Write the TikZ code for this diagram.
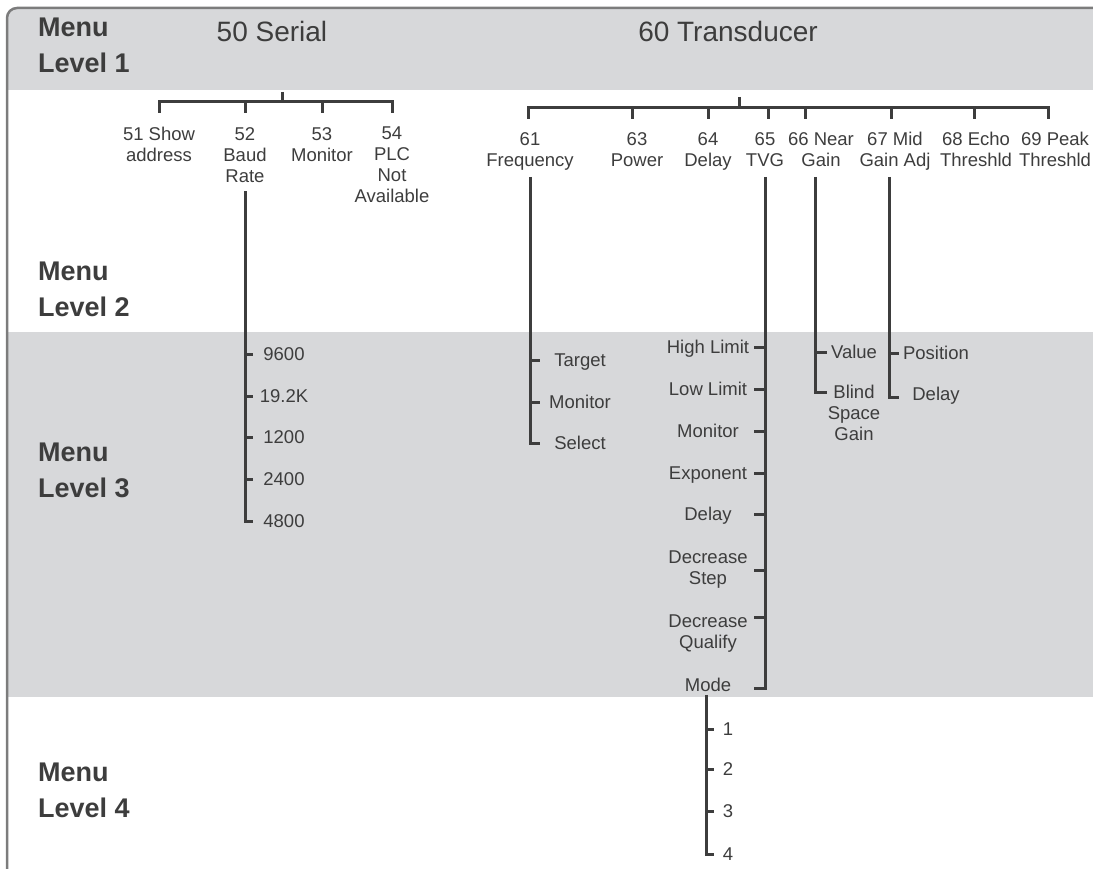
\documentclass[tikz,border=0pt]{standalone}
\usepackage{fontspec}
\setmainfont{Liberation Sans}
\usepackage{tikz}
\usetikzlibrary{positioning, calc}
\definecolor{bandgray}{HTML}{D7D8DA}
\definecolor{inkgray}{HTML}{3D3D3D}
\definecolor{framegray}{HTML}{7C7C7C}

\begin{document}
\begin{tikzpicture}[
		x=1pt, y=-1pt,
		every node/.style={
				inner sep=0pt,
				text=inkgray,
				align=center,
				font=\fontsize{18.5}{21}\selectfont
			},
		menulevel/.style={
				anchor=north west,
				align=left,
				font=\bfseries\fontsize{27}{36}\selectfont
			},
		heading/.style={anchor=base, font=\fontsize{28}{30}\selectfont},
		choice/.style={anchor=north},
		leaf/.style={
				text height=13.2pt, % cap height of the label font
				text depth=0pt
			},
		branch/.style={draw=inkgray, line width=3pt}
	]
	\useasboundingbox (0,0) rectangle (1093,869);

	% grey bands of level 1 and level 3
	\begin{scope}
		\clip (0,0) rectangle (1093,90);
		\fill[bandgray, rounded corners=10pt] (7,8) rectangle (1120,200);
	\end{scope}
	\fill[bandgray] (7,332) rectangle (1093,697);
	\draw[framegray, line width=2.5pt, rounded corners=10pt] (7,900) -- (7,8) -- (1120,8);

	\node[menulevel] (lv1) at (38,18) {Menu\\Level 1};
	\node[menulevel] (lv2) at (38,262) {Menu\\Level 2};
	\node[menulevel] (lv3) at (38,443) {Menu\\Level 3};
	\node[menulevel] (lv4) at (38,763) {Menu\\Level 4};

	\node[heading] (s50) at (272,42) {50 Serial};
	\node[heading] (s60) at (728,42) {60 Transducer};
	\coordinate (j50) at (282,92);
	\coordinate (j60) at (739,97);

	% level 2, serial
	\node[choice] (n51) at (159,127) {51 Show\\address};
	\node[choice] (n52) at (245,127) {52\\Baud\\Rate};
	\node[choice] (n53) at (322,127) {53\\Monitor};
	\node[choice] (n54) at (392,127) {54\\PLC\\Not\\Available};

	\draw[branch] (j50) -- ++(0,10) coordinate (b50);
	\draw[branch] (n51.north |- b50) ++(0,11) -- (n51.north |- b50) -- (n54.north |- b50) -- ++(0,11);
	\foreach \n in {n52,n53}
		\draw[branch] (\n.north |- b50) -- ++(0,11);

	% level 2, transducer
	\node[choice] (n61) at (530,132) {61\\Frequency};
	\node[choice] (n63) at (637,132) {63\\Power};
	\node[choice] (n64) at (708,132) {64\\Delay};
	\node[choice] (n65) at (765,132) {65\\TVG};
	\node[choice] (n66) at (821,132) {66 Near\\Gain};
	\node[choice] (n67) at (895,132) {67 Mid\\Gain Adj};
	\node[choice] (n68) at (976,132) {68 Echo\\Threshld};
	\node[choice] (n69) at (1055,132) {69 Peak\\Threshld};

	\draw[branch] (j60) -- ++(0,11) coordinate (b60);
	\draw[branch] ($(n61.north |- b60)+(-2,11)$) -- ($(n61.north |- b60)+(-2,0)$)
		-- ($(n69.north |- b60)+(-7,0)$) -- ++(0,11);
	\foreach \n/\dx in {n63/-5,n64/0,n65/3,n66/-16,n67/-4,n68/-2}
		\draw[branch] (\n.north |- b60) ++(\dx,0) -- ++(0,11);

	\coordinate (l3top) at (0,177);

	% level 3, baud rate
	\foreach \name/\val/\y in {b1/9600/354, b2/19.2K/396, b3/1200/437, b4/2400/479, b5/4800/521}
		\node[leaf] (\name) at (284,\y) {\val};
	\draw[branch] (n52.south) ++(0,9) |- ($(n52 |- b5)+(8,0)$);
	\foreach \name in {b1,b2,b3,b4}
		\draw[branch] (n52 |- \name) -- ++(8,0);

	% level 3, frequency
	\foreach \name/\val/\y in {f1/Target/360, f2/Monitor/402, f3/Select/443}
		\node[leaf] (\name) at (580,\y) {\val};
	\draw[branch] (n61 |- l3top) |- ($(n61 |- f3)+(10,0)$);
	\foreach \name in {f1,f2}
		\draw[branch] (n61 |- \name) -- ++(10,0);

	% level 3, tvg
	\foreach \name/\val/\y in {t1/High Limit/347, t2/Low Limit/389, t3/Monitor/431, t4/Exponent/473, t5/Delay/514, t8/Mode/685}
		\node[leaf] (\name) at (708,\y) {\val};
	\node (t6) at (708,570) {Decrease\\Step};
	\node (t7) at (708,634) {Decrease\\Qualify};
	\draw[branch] (n65 |- l3top) |- ($(n65 |- t8)+(-11,3)$);
	\foreach \name in {t1,t2,t3,t4,t5,t6}
		\draw[branch] (n65 |- \name) -- ++(-11,0);
	\draw[branch] ($(n65 |- t7)+(0,-17)$) -- ++(-11,0);

	% level 4, mode
	\foreach \name/\val/\y in {m1/1/729, m2/2/769, m3/3/811, m4/4/854}
		\node[leaf] (\name) at (728,\y) {\val};
	\draw[branch] (t8.south) ++(-2,3) |- ($(t8.south |- m4)+(6,0)$);
	\foreach \name in {m1,m2,m3}
		\draw[branch] (t8 |- \name) ++(-2,0) -- ++(8,0);

	% level 3, near gain
	\node[leaf] (g1) at (854,352) {Value};
	\node[choice] (g2) at (854,385) {Blind\\Space\\Gain};
	\draw[branch] (n66 |- l3top) ++(-6,0) |- ($(g2.north -| n66)+(6,7)$);
	\draw[branch] (n66 |- g1) ++(-6,0) -- ++(12,0);

	% level 3, mid gain
	\node[leaf] (p1) at (936,353) {Position};
	\node[leaf] (p2) at (936,394) {Delay};
	\draw[branch] (n67 |- l3top) ++(-6,0) |- ($(n67 |- p2)+(4,3)$);
	\draw[branch] (n67 |- p1) ++(-6,0) -- ++(10,0);
\end{tikzpicture}
\end{document}
